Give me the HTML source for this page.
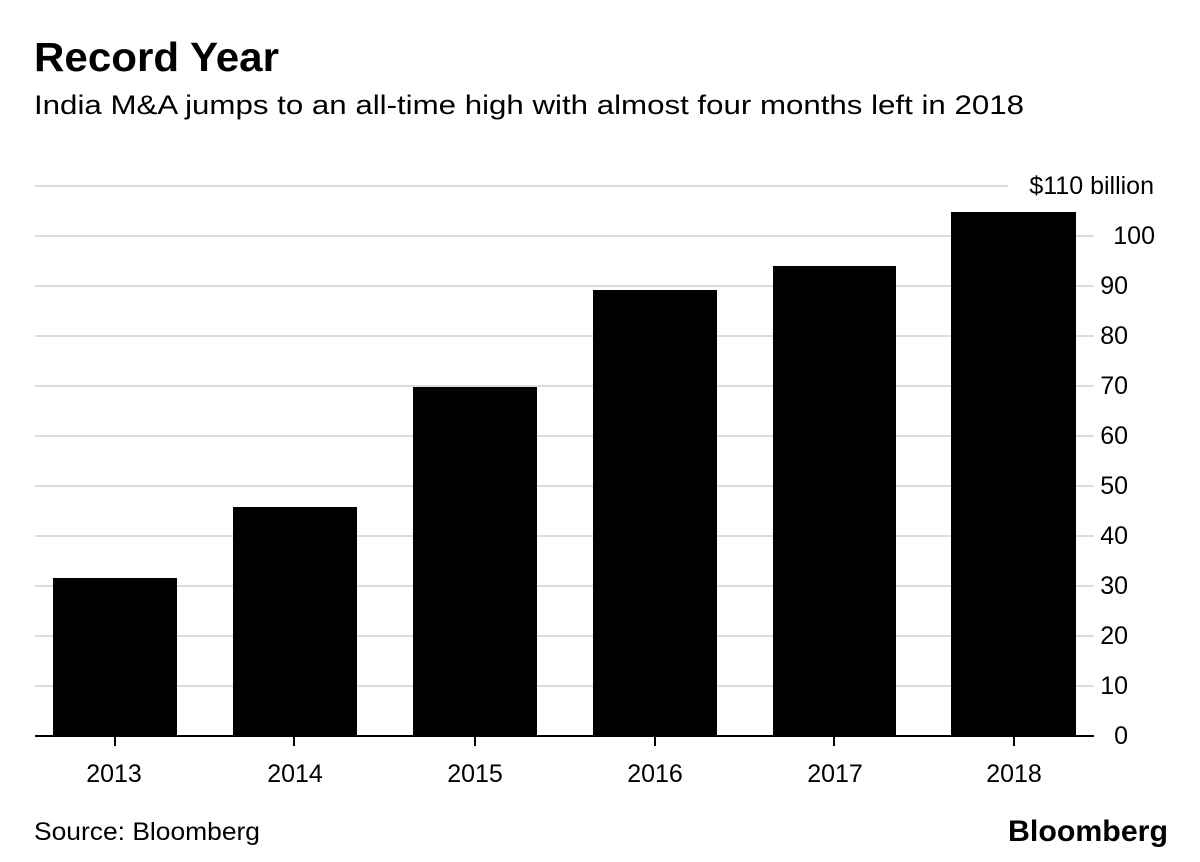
<!DOCTYPE html>
<html><head><meta charset="utf-8"><style>html,body{margin:0;padding:0;background:#fff}svg{display:block}</style></head>
<body>
<svg width="1200" height="862" viewBox="0 0 1200 862" xmlns="http://www.w3.org/2000/svg" font-family="Liberation Sans, Arial, sans-serif">
<text x="34" y="71" font-size="41" font-weight="bold" textLength="245" lengthAdjust="spacingAndGlyphs">Record Year</text>
<text x="34" y="114" font-size="27" textLength="990" lengthAdjust="spacingAndGlyphs">India M&amp;A jumps to an all-time high with almost four months left in 2018</text>
<g stroke="#dcdcdc" stroke-width="2">
<line x1="35" y1="186" x2="1008" y2="186"/>
<line x1="35" y1="236" x2="1094" y2="236"/>
<line x1="35" y1="286" x2="1094" y2="286"/>
<line x1="35" y1="336" x2="1094" y2="336"/>
<line x1="35" y1="386" x2="1094" y2="386"/>
<line x1="35" y1="436" x2="1094" y2="436"/>
<line x1="35" y1="486" x2="1094" y2="486"/>
<line x1="35" y1="536" x2="1094" y2="536"/>
<line x1="35" y1="586" x2="1094" y2="586"/>
<line x1="35" y1="636" x2="1094" y2="636"/>
<line x1="35" y1="686" x2="1094" y2="686"/>
</g>
<g fill="#000">
<rect x="53" y="578" width="124" height="158"/>
<rect x="233" y="507" width="124" height="229"/>
<rect x="413" y="387" width="124" height="349"/>
<rect x="593" y="290" width="124" height="446"/>
<rect x="773" y="266" width="123" height="470"/>
<rect x="951" y="212" width="125" height="524"/>
</g>
<line x1="35" y1="736" x2="1094" y2="736" stroke="#000" stroke-width="2"/>
<g stroke="#000" stroke-width="2">
<line x1="115" y1="737" x2="115" y2="746"/><line x1="294" y1="737" x2="294" y2="746"/>
<line x1="475" y1="737" x2="475" y2="746"/><line x1="655" y1="737" x2="655" y2="746"/>
<line x1="834" y1="737" x2="834" y2="746"/><line x1="1014" y1="737" x2="1014" y2="746"/>
</g>
<g font-size="25" text-anchor="middle">
<text x="114" y="782">2013</text><text x="295" y="782">2014</text><text x="475" y="782">2015</text>
<text x="655" y="782">2016</text><text x="835" y="782">2017</text><text x="1014" y="782">2018</text>
</g>
<g font-size="25" text-anchor="end">
<text x="1154" y="194">$110 billion</text>
<text x="1155" y="244">100</text><text x="1128" y="294">90</text><text x="1128" y="344">80</text>
<text x="1128" y="394">70</text><text x="1128" y="444">60</text><text x="1128" y="494">50</text>
<text x="1128" y="544">40</text><text x="1128" y="594">30</text><text x="1128" y="644">20</text>
<text x="1128" y="694">10</text><text x="1128" y="744">0</text>
</g>
<text x="34" y="840" font-size="25" textLength="226" lengthAdjust="spacingAndGlyphs">Source: Bloomberg</text>
<text x="1168" y="841" font-size="30" font-weight="bold" text-anchor="end" textLength="160" lengthAdjust="spacingAndGlyphs">Bloomberg</text>
</svg>
</body></html>
